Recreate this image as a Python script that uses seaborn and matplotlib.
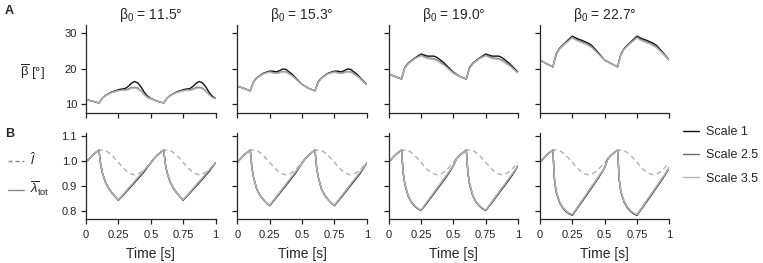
import matplotlib
matplotlib.use("Agg")
import matplotlib.pyplot as plt
from matplotlib.lines import Line2D
import seaborn as sns

# ---------- data (one 0.5 s cycle, repeated twice) ----------
beta0 = ["11.5", "15.3", "19.0", "22.7"]
scales = ["Scale 1", "Scale 2.5", "Scale 3.5"]

# row A: mean pennation angle [deg]
tA = [0, 0.05, 0.1, 0.125, 0.15, 0.2, 0.25, 0.275, 0.3, 0.325, 0.35, 0.375, 0.4, 0.425, 0.45, 0.475, 0.5]
beta_c1 = [
    [11.4, 10.9, 10.4, 11.7, 12.5, 13.5, 14.1, 14.3, 14.4, 15.0, 15.9, 16.4, 16.0, 14.9, 13.4, 12.3, 11.7],
    [11.4, 10.9, 10.4, 11.7, 12.5, 13.4, 13.9, 14.0, 14.0, 14.3, 14.7, 14.8, 14.5, 13.8, 12.8, 12.0, 11.6],
    [11.4, 10.9, 10.4, 11.7, 12.4, 13.3, 13.8, 13.9, 13.9, 14.1, 14.5, 14.6, 14.3, 13.7, 12.7, 11.9, 11.6],
]
beta_c2 = [
    [15.1, 14.5, 13.8, 16.3, 17.4, 18.7, 19.3, 19.3, 19.1, 19.4, 19.9, 19.8, 19.1, 18.4, 17.4, 16.5, 15.6],
    [15.1, 14.5, 13.8, 16.3, 17.4, 18.6, 19.1, 18.9, 18.7, 18.9, 19.2, 19.1, 18.6, 18.0, 17.2, 16.4, 15.6],
    [15.1, 14.5, 13.8, 16.2, 17.3, 18.5, 19.0, 18.8, 18.6, 18.8, 19.1, 19.0, 18.5, 17.9, 17.1, 16.3, 15.5],
]
beta_c3 = [
    [18.5, 17.8, 17.1, 20.3, 21.5, 22.9, 24.1, 23.8, 23.5, 23.5, 23.5, 23.1, 22.4, 21.7, 20.8, 19.9, 19.0],
    [18.5, 17.8, 17.1, 20.2, 21.4, 22.8, 23.8, 23.4, 23.0, 22.9, 22.8, 22.4, 21.8, 21.2, 20.4, 19.6, 18.8],
    [18.5, 17.8, 17.1, 20.1, 21.3, 22.7, 23.6, 23.2, 22.8, 22.7, 22.6, 22.2, 21.6, 21.0, 20.3, 19.5, 18.7],
]
beta_c4 = [
    [22.4, 21.4, 20.5, 24.0, 25.6, 27.4, 29.1, 28.6, 28.2, 27.9, 27.5, 27.1, 26.5, 25.5, 24.5, 23.4, 22.4],
    [22.4, 21.4, 20.5, 23.9, 25.5, 27.2, 28.8, 28.2, 27.8, 27.4, 27.1, 26.6, 26.1, 25.2, 24.3, 23.3, 22.3],
    [22.4, 21.4, 20.5, 23.8, 25.4, 27.1, 28.6, 28.0, 27.6, 27.2, 26.9, 26.4, 25.9, 25.0, 24.1, 23.2, 22.3],
]

# row B: normalised muscle length (dashed) and mean fibre stretch (solid)
tL = [0, 0.025, 0.05, 0.075, 0.1, 0.125, 0.15, 0.175, 0.2, 0.225, 0.25,
      0.275, 0.3, 0.325, 0.35, 0.375, 0.4, 0.425, 0.45, 0.475, 0.5]
l_hat = [0.995, 1.010, 1.024, 1.035, 1.043, 1.045, 1.043, 1.035, 1.024, 1.010, 0.995,
         0.980, 0.966, 0.955, 0.948, 0.945, 0.948, 0.955, 0.966, 0.980, 0.995]

tB = [0, 0.025, 0.05, 0.075, 0.1, 0.1125, 0.125, 0.15, 0.175, 0.2, 0.225, 0.25, 0.3, 0.35, 0.4, 0.45, 0.475, 0.5]
lam_c1 = [
    [0.995, 1.010, 1.024, 1.035, 1.045, 0.990, 0.955, 0.915, 0.890, 0.872, 0.857, 0.842, 0.870, 0.899, 0.928, 0.958, 0.976, 0.993],
    [0.995, 1.010, 1.024, 1.035, 1.045, 0.990, 0.955, 0.915, 0.890, 0.872, 0.857, 0.843, 0.872, 0.902, 0.931, 0.961, 0.978, 0.993],
    [0.995, 1.010, 1.024, 1.035, 1.045, 0.990, 0.955, 0.915, 0.890, 0.872, 0.857, 0.844, 0.874, 0.904, 0.934, 0.964, 0.979, 0.993],
]
lam_c2 = [
    [0.995, 1.010, 1.024, 1.035, 1.045, 0.975, 0.935, 0.888, 0.862, 0.845, 0.831, 0.820, 0.852, 0.885, 0.918, 0.952, 0.972, 0.992],
    [0.995, 1.010, 1.024, 1.035, 1.045, 0.975, 0.935, 0.888, 0.862, 0.845, 0.831, 0.821, 0.854, 0.888, 0.921, 0.955, 0.973, 0.992],
    [0.995, 1.010, 1.024, 1.035, 1.045, 0.975, 0.935, 0.888, 0.862, 0.845, 0.831, 0.822, 0.856, 0.890, 0.924, 0.958, 0.975, 0.992],
]
lam_c3 = [
    [0.995, 1.010, 1.024, 1.035, 1.045, 0.952, 0.908, 0.860, 0.835, 0.819, 0.808, 0.800, 0.834, 0.869, 0.904, 0.940, 0.960, 0.982],
    [0.995, 1.010, 1.024, 1.035, 1.045, 0.954, 0.909, 0.861, 0.836, 0.820, 0.809, 0.801, 0.836, 0.872, 0.907, 0.943, 0.962, 0.982],
    [0.995, 1.010, 1.024, 1.035, 1.045, 0.955, 0.910, 0.862, 0.837, 0.821, 0.810, 0.802, 0.838, 0.874, 0.910, 0.946, 0.964, 0.982],
]
lam_c4 = [
    [0.995, 1.010, 1.024, 1.035, 1.045, 0.925, 0.876, 0.835, 0.812, 0.797, 0.787, 0.781, 0.818, 0.855, 0.893, 0.931, 0.952, 0.974],
    [0.995, 1.010, 1.024, 1.035, 1.045, 0.928, 0.878, 0.837, 0.814, 0.799, 0.789, 0.783, 0.820, 0.858, 0.896, 0.934, 0.954, 0.974],
    [0.995, 1.010, 1.024, 1.035, 1.045, 0.930, 0.880, 0.838, 0.815, 0.800, 0.790, 0.784, 0.822, 0.860, 0.898, 0.936, 0.955, 0.974],
]

beta_all = [beta_c1, beta_c2, beta_c3, beta_c4]
lam_all = [lam_c1, lam_c2, lam_c3, lam_c4]
scale_colors = ["#111111", "#6a6a6a", "#b4b4b4"]
dash_color = "#b0b0b0"


def two_cycles(t, v):
    # repeat the measured cycle for the second half second
    return t + [0.5 + x for x in t[1:]], v + v[1:]


# ---------- figure ----------
sns.set_style("ticks")
plt.rcParams["font.family"] = ["Liberation Sans", "DejaVu Sans"]
plt.rcParams["mathtext.fontset"] = "custom"
plt.rcParams["mathtext.rm"] = "Liberation Sans"
plt.rcParams["mathtext.it"] = "Liberation Sans:italic"
plt.rcParams["axes.linewidth"] = 0.9
plt.rcParams["xtick.major.width"] = 0.9
plt.rcParams["ytick.major.width"] = 0.9
plt.rcParams["xtick.major.size"] = 3.5
plt.rcParams["ytick.major.size"] = 3.5

W, H = 763, 263
fig = plt.figure(figsize=(W / 100, H / 100), dpi=100)

lefts = [86, 237.3, 388.6, 539.9]
aw = 129.5
rowA = (25, 113)
rowB = (133, 219)

for i in range(4):
    axA = fig.add_axes([lefts[i] / W, 1 - rowA[1] / H, aw / W, (rowA[1] - rowA[0]) / H])
    axB = fig.add_axes([lefts[i] / W, 1 - rowB[1] / H, aw / W, (rowB[1] - rowB[0]) / H])

    for k in range(3):
        t, v = two_cycles(tA, beta_all[i][k])
        sns.lineplot(x=t, y=v, ax=axA, color=scale_colors[k], lw=1.0, sort=False)
    t, v = two_cycles(tL, l_hat)
    sns.lineplot(x=t, y=v, ax=axB, color=dash_color, lw=1.0, sort=False,
                 linestyle=(0, (3.5, 2.5)))
    for k in range(3):
        t, v = two_cycles(tB, lam_all[i][k])
        sns.lineplot(x=t, y=v, ax=axB, color=scale_colors[k], lw=1.0, sort=False)

    axA.set_xlim(0, 1)
    axA.set_ylim(7.6, 32.2)
    axA.set_yticks([10, 20, 30])
    axB.set_xlim(0, 1)
    axB.set_ylim(0.766, 1.114)
    axB.set_yticks([0.8, 0.9, 1.0, 1.1])
    for ax in (axA, axB):
        ax.set_xticks([0, 0.25, 0.5, 0.75, 1])
        sns.despine(ax=ax)
        ax.tick_params(labelsize=8, pad=3, colors="#222222")
        ax.set_xlabel("")
        ax.set_ylabel("")
    axA.set_xticklabels([])
    axB.set_xticklabels(["0", "0.25", "0.5", "0.75", "1"])
    axB.tick_params(axis="x", pad=4.5)
    if i == 0:
        axA.set_yticklabels(["10", "20", "30"])
        axB.set_yticklabels(["0.8", "0.9", "1.0", "1.1"])
    else:
        axA.set_yticklabels([])
        axB.set_yticklabels([])
    axB.set_xlabel("Time [s]", fontsize=10, labelpad=5)
    axA.set_title(r"$\mathregular{β_0}$ = " + beta0[i] + "°", fontsize=10, pad=4)

# panel letters and row A label
fig.text(5 / W, 1 - 11 / H, "A", fontsize=9, fontweight="bold", va="center")
fig.text(5 / W, 1 - 134 / H, "B", fontsize=9, fontweight="bold", va="center")
fig.text(20 / W, 1 - 72 / H, r"$\mathregular{\overline{β}}$ [°]", fontsize=9.5, va="center")

# left legend for row B
left_handles = [
    Line2D([], [], color="#888888", lw=1.0, linestyle=(0, (3, 2))),
    Line2D([], [], color="#888888", lw=1.0),
]
fig.legend(left_handles, [r"$\hat{l}$", r"$\overline{\lambda}_{\mathrm{tot}}$"],
           loc="center left", bbox_to_anchor=(8 / W, 1 - 175 / H), frameon=False,
           fontsize=9.5, handlelength=1.2, handletextpad=0.5, labelspacing=0.9,
           borderpad=0, borderaxespad=0)

# right legend for scales
scale_handles = [Line2D([], [], color=c, lw=1.0) for c in scale_colors]
fig.legend(scale_handles, scales, loc="upper left", bbox_to_anchor=(683 / W, 1 - 126 / H),
           frameon=False, fontsize=9, handlelength=1.25, handletextpad=0.6,
           labelspacing=0.9, borderpad=0, borderaxespad=0)

fig.savefig("out.png", dpi=100)
